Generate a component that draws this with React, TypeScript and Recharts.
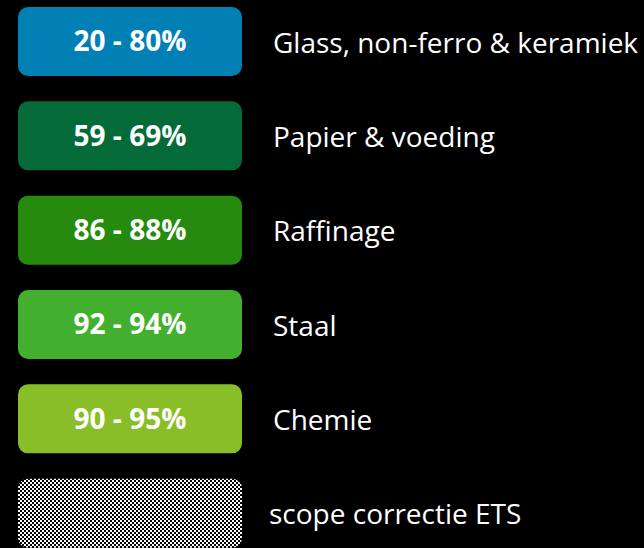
import { BarChart, Bar, XAxis, YAxis, Cell, LabelList } from "recharts";

// sectors and their share ranges (last row is the hatched "scope" box)
const sectors = [
  "Glass, non-ferro & keramiek",
  "Papier & voeding",
  "Raffinage",
  "Staal",
  "Chemie",
  "scope correctie ETS",
];
const rangeLow: (number | null)[] = [20, 59, 86, 92, 90, null];
const rangeHigh: (number | null)[] = [80, 69, 88, 94, 95, null];
const boxSpan = [1, 1, 1, 1, 1, 1];
const fills = ["#0080B4", "#046A38", "#268A0F", "#42B02E", "#8ABE28", "url(#checker)"];

const data = sectors.map((name, i) => ({
  name,
  span: boxSpan[i],
  range: rangeLow[i] == null ? "" : `${rangeLow[i]} - ${rangeHigh[i]}%`,
}));

const FONT = "'Open Sans', sans-serif";

const SectorLabel = (props: any) => {
  const { x, y, width, height, value, index } = props;
  // the lowercase last label sits a little further left in the original
  const gap = index === sectors.length - 1 ? 27 : 31;
  return (
    <text
      x={Number(x) + Number(width) + gap}
      y={Number(y) + Number(height) / 2}
      dominantBaseline="central"
      fill="#ffffff"
      fontFamily={FONT}
      fontSize={28}
    >
      {value}
    </text>
  );
};

export default function App() {
  return (
    <div style={{ position: "fixed", left: 0, top: 0, width: 644, height: 548, overflow: "hidden", background: "#000" }}>
      <style>{`body{margin:0;background:#000}`}</style>
      <div style={{ position: "absolute", left: 0, top: -6 }}>
        <BarChart
          width={644}
          height={566}
          data={data}
          layout="vertical"
          margin={{ top: 0, right: 402, bottom: 0, left: 18 }}
          barSize={69}
        >
          <defs>
            <pattern id="checker" width={4} height={4} patternUnits="userSpaceOnUse">
              <rect width={4} height={4} fill="#ffffff" />
              <rect width={2} height={2} fill="#000000" />
              <rect x={2} y={2} width={2} height={2} fill="#000000" />
            </pattern>
          </defs>
          <XAxis type="number" domain={[0, 1]} hide />
          <YAxis type="category" dataKey="name" hide />
          <Bar dataKey="span" radius={10} isAnimationActive={false}>
            {data.map((d, i) => (
              <Cell key={d.name} fill={fills[i]} />
            ))}
            <LabelList
              dataKey="range"
              position="center"
              fill="#ffffff"
              fontFamily={FONT}
              fontWeight="bold"
              fontSize={28}
            />
            <LabelList dataKey="name" content={SectorLabel} />
          </Bar>
        </BarChart>
      </div>
    </div>
  );
}
